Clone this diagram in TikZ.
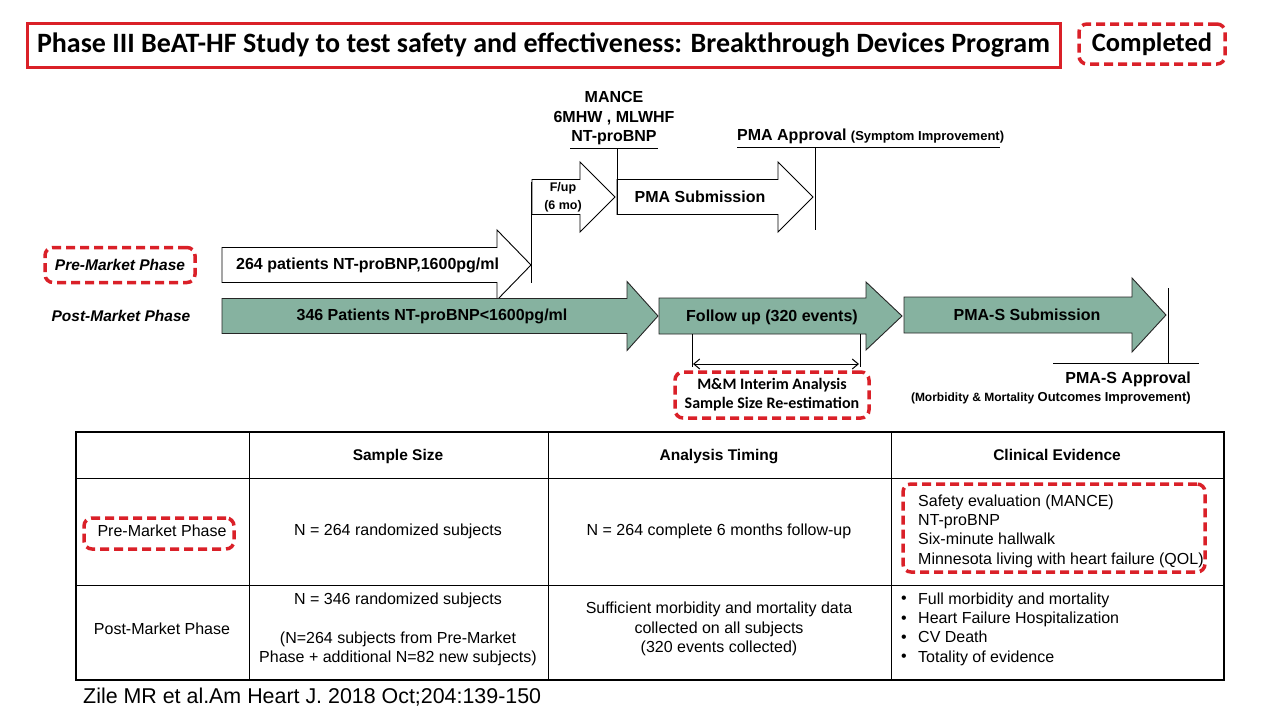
\documentclass[tikz,border=0pt]{standalone}
\usepackage{fontspec}
\setmainfont{Liberation Sans}
\newfontfamily\calfont{Carlito}
\usetikzlibrary{arrows.meta}
\definecolor{hred}{RGB}{218,32,40}
\definecolor{tgreen}{RGB}{134,178,160}
% style, xL, xH, xT, yc, half body, half head
\newcommand\fatarrow[7]{%
  \draw[#1] (#2,#5-#6) -- (#3,#5-#6) -- (#3,#5-#7) -- (#4,#5) -- (#3,#5+#7) -- (#3,#5+#6) -- (#2,#5+#6) -- cycle;}
\begin{document}
\begin{tikzpicture}[x=1pt,y=-1pt,
  redbox/.style={draw=hred, line width=3pt},
  reddash/.style={draw=hred, line width=3.5pt, dash pattern=on 9pt off 5pt, rounded corners=8pt},
  whitearrow/.style={draw=black, fill=white, line width=0.9pt},
  greenarrow/.style={draw=black!85, fill=tgreen, line width=0.9pt},
  thinline/.style={draw=black, line width=1pt},
  lbl/.style={inner sep=0pt, font=\fontsize{16}{19.5}\selectfont\bfseries, align=center},
  cell/.style={inner sep=0pt, font=\fontsize{16}{19.4}\selectfont, align=center},
  head/.style={inner sep=0pt, anchor=base, font=\fontsize{15.5}{19}\selectfont\bfseries},
  tick/.style={{Straight Barb[length=6pt,width=10pt]}-{Straight Barb[length=6pt,width=10pt]}, line width=1pt}
]
\useasboundingbox (0,0) rectangle (1280,720);
\fill[white] (0,0) rectangle (1280,720);

% ---- title
\node[redbox, minimum width=1033pt, minimum height=44pt, inner sep=0pt,
      font=\calfont\fontsize{28}{32}\selectfont\bfseries] (title) at (543.5,45)
  {Phase III BeAT-HF Study to test safety and effectiveness: Breakthrough Devices Program};
\node[reddash, minimum width=146pt, minimum height=40pt, inner sep=0pt,
      font=\calfont\fontsize{26.5}{30}\selectfont\bfseries] (done) at (1152,44) {Completed};

% ---- upper arrows
\fatarrow{whitearrow}{222}{497}{531}{265}{17.5}{35}
\fatarrow{whitearrow}{532}{580}{615}{197}{17.5}{35}
\fatarrow{whitearrow}{617}{778}{813}{197}{17.5}{35}

\coordinate (v1t) at (531,182); \coordinate (v1b) at (531,283);
\draw[thinline] (v1t) -- (v1b);
\coordinate (m1l) at (570,148); \coordinate (m1r) at (658,148);
\coordinate (m1t) at (617,148); \coordinate (m1b) at (617,215);
\draw[thinline] (m1l) -- (m1r);
\draw[thinline] (m1t) -- (m1b);
\coordinate (p1l) at (737,147); \coordinate (p1r) at (1000,147);
\coordinate (p1t) at (815,147); \coordinate (p1b) at (815,230);
\draw[thinline] (p1l) -- (p1r);
\draw[thinline] (p1t) -- (p1b);

\node[lbl] (mance) at (614,118.5) {MANCE\\6MHW , MLWHF\\NT-proBNP};
\node[inner sep=0pt, anchor=base west] (pmaa) at (737,140)
  {\fontsize{16}{19}\selectfont\bfseries PMA Approval {\fontsize{13}{15}\selectfont(Symptom Improvement)}};
\node[inner sep=0pt, font=\fontsize{12.5}{18}\selectfont\bfseries, align=center] (fup) at (563,197) {F/up\\(6 mo)};
\node[lbl] (pmas) at (700,197) {PMA Submission};
\node[lbl, anchor=west] (pat264) at (236,265) {264 patients NT-proBNP,1600pg/ml};

% ---- lower arrows
\fatarrow{greenarrow}{222}{627}{658}{316}{17.5}{34.5}
\fatarrow{greenarrow}{659}{866}{902}{316}{18}{34}
\fatarrow{greenarrow}{904}{1132}{1166}{315}{18}{37}

\node[lbl] (pat346) at (432,316) {346 Patients NT-proBNP<1600pg/ml};
\node[lbl] (fu) at (772,317) {Follow up (320 events)};
\node[lbl] (pmass) at (1027,315) {PMA-S Submission};

\node[reddash, minimum width=150pt, minimum height=35pt, inner sep=0pt] (pre) at (120,265) {};
\node[lbl, font=\fontsize{15.5}{19}\selectfont\bfseries\itshape] (pretext) at (pre) {Pre-Market Phase};
\node[lbl, font=\fontsize{15.5}{19}\selectfont\bfseries\itshape] (post) at (121,316) {Post-Market Phase};

% PMA-S approval
\coordinate (s1t) at (1168,288); \coordinate (s1b) at (1168,363);
\coordinate (s1l) at (1053,363); \coordinate (s1r) at (1199,363);
\draw[thinline] (s1t) -- (s1b);
\draw[thinline] (s1l) -- (s1r);
\node[lbl, anchor=base east] (psa) at (1191,383) {PMA-S Approval};
\node[inner sep=0pt, anchor=base east, font=\bfseries] (psan) at (1191,401)
  {{\fontsize{12}{14}\selectfont(Morbidity \& Mortality }{\fontsize{13}{15}\selectfont Outcomes Improvement)}};

% interim analysis
\coordinate (iLt) at (692,334); \coordinate (iLb) at (692,367);
\coordinate (iRt) at (860,334); \coordinate (iRb) at (860,367);
\coordinate (iL) at (693,364); \coordinate (iR) at (859,364);
\draw[thinline] (iLt) -- (iLb);
\draw[thinline] (iRt) -- (iRb);
\draw[tick] (iL) -- (iR);
\node[reddash, minimum width=194pt, minimum height=46pt, inner sep=0pt,
      font=\calfont\fontsize{16}{19}\selectfont\bfseries, align=center] (interim) at (772,395)
  {M\&M Interim Analysis\\Sample Size Re-estimation};

% ---- table
\coordinate (tNW) at (76,432); \coordinate (tSE) at (1224,680);
\draw[line width=2pt] (tNW) rectangle (tSE);
\coordinate (r1l) at (76,478); \coordinate (r1r) at (1224,478);
\coordinate (r2l) at (76,585); \coordinate (r2r) at (1224,585);
\draw[thinline] (r1l) -- (r1r);
\draw[thinline] (r2l) -- (r2r);
\foreach \cx/\nm in {249/ca,548/cb,891/cc}{
  \coordinate (\nm t) at (\cx,432); \coordinate (\nm b) at (\cx,680);
  \draw[thinline] (\nm t) -- (\nm b);
}

\node[head] (h1) at (398,460) {Sample Size};
\node[head] (h2) at (719,460) {Analysis Timing};
\node[head] (h3) at (1057,460) {Clinical Evidence};

\node[reddash, minimum width=150pt, minimum height=31pt, inner sep=0pt] (prebox) at (159,533.5) {};
\node[cell] (prec) at (162,531) {Pre-Market Phase};
\node[cell] (ss1) at (398,531) {N = 264 randomized subjects};
\node[cell] (at1) at (719,531) {N = 264 complete 6 months follow-up};
\node[cell, align=left, anchor=west] (ce1) at (918,531)
  {Safety evaluation (MANCE)\\NT-proBNP\\Six-minute hallwalk\\Minnesota living with heart failure (QOL)};
\node[reddash, minimum width=302pt, minimum height=88pt, inner sep=0pt] (cebox) at (1054,528) {};

\node[cell] (postc) at (162,629) {Post-Market Phase};
\node[cell] (ss2) at (398,629.5)
  {N = 346 randomized subjects\\\mbox{}\\(N=264 subjects from Pre-Market\\Phase + additional N=82 new subjects)};
\node[cell] (at2) at (719,629)
  {Sufficient morbidity and mortality data\\collected on all subjects\\(320 events collected)};
\node[cell, align=left, anchor=west] (bul2) at (901,629) {•\\•\\•\\•};
\node[cell, align=left, anchor=west] (ce2) at (918,629)
  {Full morbidity and mortality\\Heart Failure Hospitalization\\CV Death\\Totality of evidence};

% ---- citation
\node[inner sep=0pt, anchor=west, font=\fontsize{21.4}{25}\selectfont] (cite) at (83,697)
  {Zile MR et al.Am Heart J. 2018 Oct;204:139-150};
\end{tikzpicture}
\end{document}
